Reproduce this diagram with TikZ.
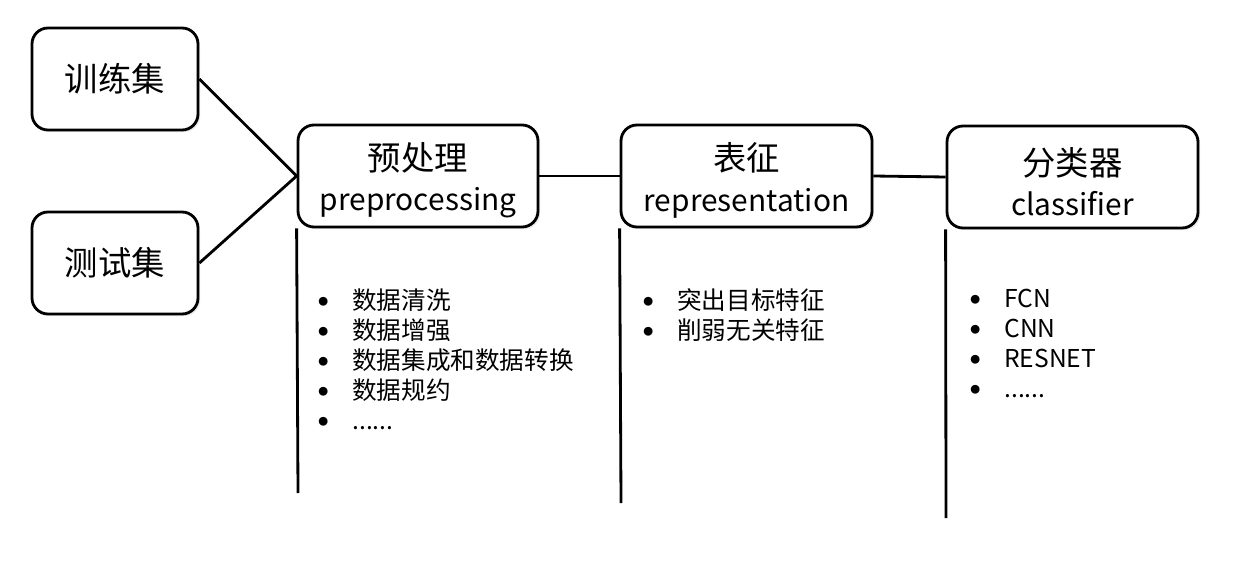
\documentclass[tikz,border=0pt]{standalone}
\usepackage{fontspec}
\setmainfont{Noto Sans CJK SC}
\usetikzlibrary{positioning, shadows}

\begin{document}
\begin{tikzpicture}[
    stage/.style={draw, line width=1.6pt, rounded corners=0.32cm, fill=white,
        minimum width=5.02cm, minimum height=2.04cm, align=center,
        font=\fontsize{17}{22.8}\selectfont,
        drop shadow={opacity=0.18, shadow xshift=1.2pt, shadow yshift=-1.2pt}},
    dataset/.style={stage, minimum width=3.32cm, font=\fontsize{19}{22.8}\selectfont},
    link/.style={line width=1.6pt},
    itemlist/.style={anchor=north west, align=left, inner sep=0pt,
        font=\fontsize{14}{17.1}\selectfont}
]
\useasboundingbox (0,0) rectangle (24.72,11.6);

% Title of a stage: Chinese name over English name
\def\stagetitle#1#2{\rule{0pt}{21pt}{\fontsize{19}{22.8}\selectfont #1}\\#2}
% Bullet of a list item
\def\bul{\makebox[0pt][c]{\raisebox{0.16em}{\scalebox{0.4}{●}}}\hspace{0.58cm}}

% Input data sets
\node[dataset] (train) at (2.30, 10.02) {训练集};
\node[dataset] (test)  at (2.30, 6.34) {测试集};

% Pipeline stages
\node[stage, minimum width=4.8cm] (prep) at (8.36, 8.08) {\stagetitle{预处理}{preprocessing}};
\node[stage] (repr) at (14.93, 8.08) {\stagetitle{表征}{representation}};
\node[stage] (clf)  at (21.45, 8.06) {\stagetitle{分类器}{classifier}};

% Connectors
\draw[link] (train.east) -- (prep.west);
\draw[link] (test.east) -- (prep.west);
\draw[link] (prep.east) -- (repr.west);
\draw[link] (repr.east) -- (clf.west);

% Vertical guide lines below the stages
\coordinate (prepend) at (5.96, 1.74);
\coordinate (reprend) at (12.42, 1.54);
\coordinate (clfend)  at (18.92, 1.24);
\draw[link] (prep.south west) -- (prepend);
\draw[link] (repr.south west) -- (reprend);
\draw[link] (clf.south west) -- (clfend);

% Item lists
\node[itemlist] (preplist) at (6.46, 5.83) {%
    \bul 数据清洗\\ \bul 数据增强\\ \bul 数据集成和数据转换\\ \bul 数据规约\\ \bul ......};
\node[itemlist] (reprlist) at (12.96, 5.83) {%
    \bul 突出目标特征\\ \bul 削弱无关特征};
\node[itemlist] (clflist) at (19.50, 5.83) {%
    \bul FCN\\ \bul CNN\\ \bul RESNET\\ \bul ......};

\end{tikzpicture}
\end{document}
